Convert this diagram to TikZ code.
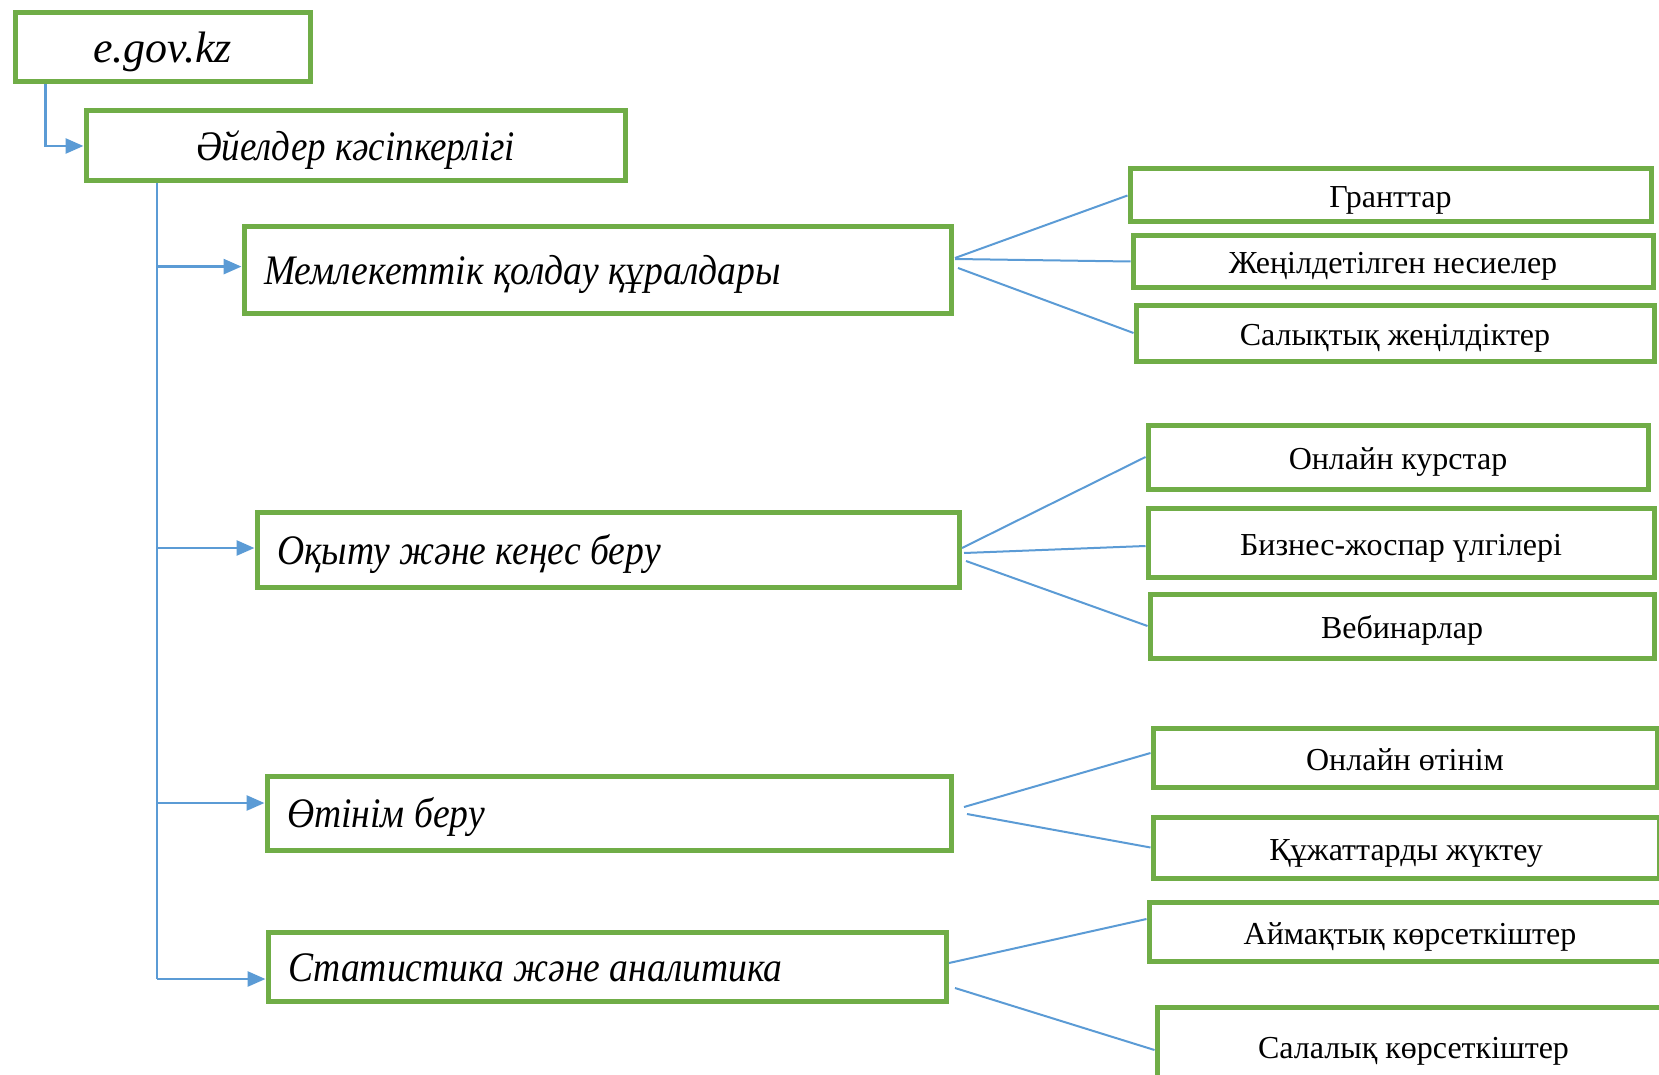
\documentclass[tikz,border=0pt]{standalone}
\usepackage{fontspec}
\setmainfont{Liberation Serif}
\newfontfamily\cyrit[FakeStretch=0.895]{Liberation Serif}
\newfontfamily\cyritn[FakeStretch=0.88]{Liberation Serif}
\usetikzlibrary{arrows.meta,calc}
\definecolor{bgreen}{HTML}{70AD47}
\definecolor{lblue}{HTML}{5B9BD5}
\begin{document}
\begin{tikzpicture}[x=0.5pt,y=-0.5pt,
 box/.style={draw=bgreen, line width=2.5pt, inner sep=0pt, text=black},
 bigtxt/.style={font={\fontsize{21pt}{25pt}\cyrit\itshape}, text height=14.5pt, text depth=0pt},
 midtxt/.style={font={\fontsize{21pt}{25pt}\cyritn\itshape}, text height=14.5pt, text depth=0pt},
 lattxt/.style={font={\fontsize{22pt}{26pt}\selectfont\itshape}, text height=15pt, text depth=0pt},
 smalltxt/.style={font={\fontsize{16pt}{19pt}\selectfont}, text height=12.5pt, text depth=0pt},
 lbox/.style={box, bigtxt, align=flush left, inner xsep=10pt},
 rbox/.style={box, smalltxt},
 conn/.style={draw=lblue, line width=1pt},
 arr/.style={draw=lblue, line width=1.4pt, -{Triangle[length=9pt,width=7.5pt]}}]
\useasboundingbox (0,0) rectangle (1659,1075);
% left column
\node[box, lattxt, minimum width=147.5pt, minimum height=34.5pt] (egov) at (162.5,47.5) {e.gov.kz};
\node[box, midtxt, minimum width=269.5pt, minimum height=35pt] (ayel) at (355.5,146) {Әйелдер кәсіпкерлігі};
\node[lbox, text width=333.5pt, minimum height=43pt] (mem) at (597.5,270) {Мемлекеттік қолдау құралдары};
\node[lbox, text width=331pt, minimum height=37.5pt] (oqy) at (608,549.5) {Оқыту және кеңес беру};
\node[lbox, text width=322pt, minimum height=37pt] (otin) at (609,813) {Өтінім беру};
\node[lbox, text width=319pt, minimum height=34.5pt] (stat) at (607,966.5) {Статистика және аналитика};
% right column
\node[rbox, minimum width=260.5pt, minimum height=26.5pt] (gr) at (1390.5,195.5) {Гранттар};
\node[rbox, minimum width=260pt, minimum height=25.5pt] (zhen) at (1393,261.5) {Жеңілдетілген несиелер};
\node[rbox, minimum width=259pt, minimum height=28pt] (sal) at (1395,333) {Салықтық жеңілдіктер};
\node[rbox, minimum width=250pt, minimum height=32pt] (onk) at (1398,457) {Онлайн курстар};
\node[rbox, minimum width=253pt, minimum height=34.5pt] (biz) at (1401,542.5) {Бизнес-жоспар үлгілері};
\node[rbox, minimum width=252pt, minimum height=32pt] (veb) at (1402,626) {Вебинарлар};
\node[rbox, minimum width=252pt, minimum height=29.5pt] (ono) at (1405,757.5) {Онлайн өтінім};
\node[rbox, minimum width=253pt, minimum height=30.5pt] (quj) at (1406,847.5) {Құжаттарды жүктеу};
\node[rbox, minimum width=261pt, minimum height=29.5pt] (aim) at (1410,931.5) {Аймақтық көрсеткіштер};
\node[rbox, minimum width=256.5pt, minimum height=39pt] (sal2) at (1413.5,1046) {Салалық көрсеткіштер};
% trunk connectors
\coordinate (ex) at (45.5,0);
\draw[arr] (egov.south -| ex) |- (ayel.west);
\coordinate (tr) at (156.6,979);
\draw[conn] (ayel.south -| tr) -- (tr);
\coordinate (memin) at ([yshift=1.7pt]mem.west);
\coordinate (oqyin) at ([yshift=0.75pt]oqy.west);
\coordinate (otinin) at ([yshift=5pt]otin.west);
\coordinate (statin) at ([yshift=-6.25pt]stat.west);
\draw[arr] (tr |- memin) -- (memin);
\draw[arr] (tr |- oqyin) -- (oqyin);
\draw[arr] (tr |- otinin) -- (otinin);
\draw[arr] (tr |- statin) -- (statin);
% fan-out connectors
\draw[conn] ([xshift=0.75pt,yshift=6pt]mem.east) -- (gr.west);
\draw[conn] ([xshift=0.75pt,yshift=5.5pt]mem.east) -- (zhen.west);
\draw[conn] ([xshift=2.25pt,yshift=1pt]mem.east) -- (sal.west);
\draw[conn] ([xshift=0.25pt,yshift=0.75pt]oqy.east) -- (onk.west);
\draw[conn] ([xshift=1.25pt,yshift=-1.75pt]oqy.east) -- ([yshift=-1.75pt]biz.west);
\draw[conn] ([xshift=2.25pt,yshift=-5.75pt]oqy.east) -- (veb.west);
\draw[conn] ([xshift=5.25pt,yshift=3pt]otin.east) -- ([yshift=2.25pt]ono.west);
\draw[conn] ([xshift=6.75pt,yshift=-0.5pt]otin.east) -- (quj.west);
\draw[conn] ([xshift=0.25pt,yshift=1.75pt]stat.east) -- ([yshift=6.25pt]aim.west);
\draw[conn] ([xshift=3.25pt,yshift=-10.75pt]stat.east) -- ([yshift=-2pt]sal2.west);
\end{tikzpicture}
\end{document}
